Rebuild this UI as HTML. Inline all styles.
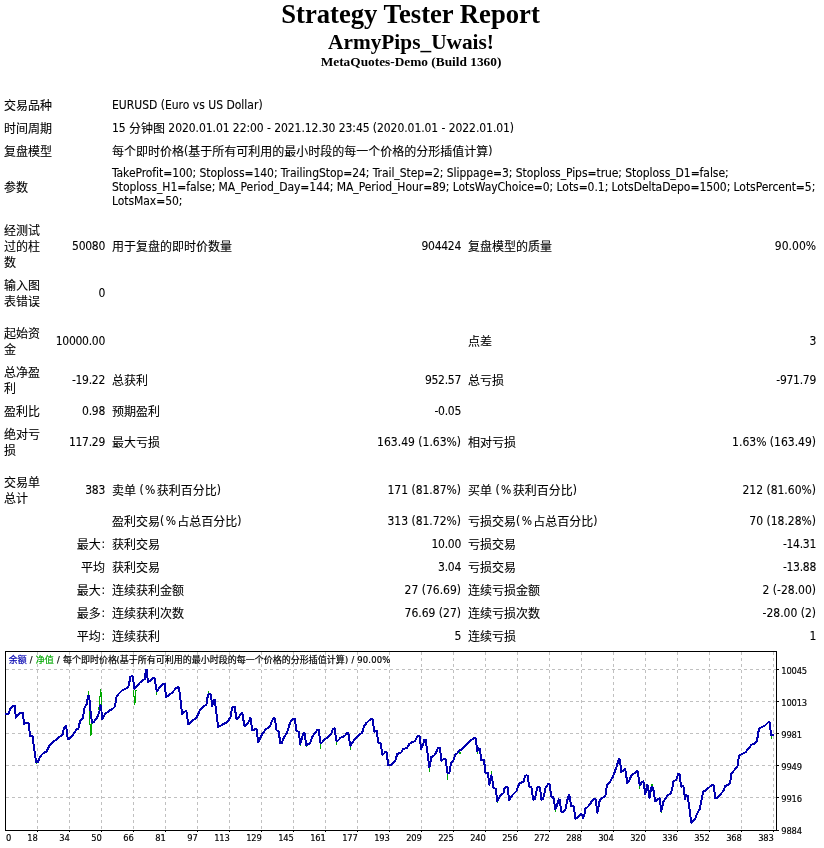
<!DOCTYPE html>
<html>
<head>
<meta charset="utf-8">
<title>Strategy Tester: ArmyPips_Uwais!</title>
<style>
html,body{margin:0;padding:0;background:#fff;}
body{width:824px;height:848px;position:relative;overflow:hidden;color:#000;}
.h{position:absolute;left:0;width:824px;text-align:center;font-family:"Liberation Serif","Noto Serif CJK SC",serif;font-weight:bold;white-space:nowrap;}
#h1{top:-1px;left:-1.5px;font-size:26.67px;line-height:30px;}
#h2{top:30px;left:-1px;font-size:21.33px;line-height:24px;}
#h3{top:54.4px;left:-1px;font-size:13.33px;line-height:15px;}
table{position:absolute;left:0;top:92px;width:820px;border-collapse:separate;border-spacing:1px;table-layout:fixed;}
td{font-family:"DejaVu Sans Condensed","Noto Sans CJK SC",sans-serif;font-size:12px;line-height:16px;padding:5px 3px 1px 3px;vertical-align:middle;text-align:left;word-break:break-all;white-space:nowrap;-webkit-text-stroke:0.1px #000;}
td.w{white-space:normal;}
td.r,td.l{padding:4px 3px 2px 3px;}
td.r{text-align:right;}
td.d{letter-spacing:-0.28px;}
td.c{text-align:right;}
i{font-style:normal;position:relative;top:-1px;}
i.n{letter-spacing:-0.065px;}
td.c i{margin-left:.6px;}
i.k{letter-spacing:1.4px;}
td.p b{font-weight:normal;letter-spacing:-0.052px;}
td.p{line-height:14px;padding:4px 3px 0 3px;height:42px;letter-spacing:-0.06px;}
td.q{padding:7px 3px 1px 3px;}
tr.sp td{height:8px;padding:0;line-height:0;}
#chart{position:absolute;left:2px;top:648px;width:820px;height:200px;}
</style>
</head>
<body>
<div class="h" id="h1">Strategy Tester Report</div>
<div class="h" id="h2">ArmyPips_Uwais!</div>
<div class="h" id="h3">MetaQuotes-Demo (Build 1360)</div>
<table>
<colgroup><col style="width:42px"><col style="width:64px"><col style="width:180px"><col style="width:174px"><col style="width:180px"><col style="width:173px"></colgroup>
<tr><td colspan="2">交易品种</td><td colspan="4" class="l">EURUSD (Euro vs US Dollar)</td></tr>
<tr><td colspan="2">时间周期</td><td colspan="4"><i class="n">15 </i>分钟图<i class="n"> 2020.01.01 22:00 - 2021.12.30 23:45 (2020.01.01 - 2022.01.01)</i></td></tr>
<tr><td colspan="2">复盘模型</td><td colspan="4">每个即时价格<i>(</i>基于所有可利用的最小时段的每一个价格的分形插值计算<i>)</i></td></tr>
<tr><td colspan="2" class="q">参数</td><td colspan="4" class="p">TakeProfit=100; Stoploss=140; TrailingStop=24; Trail_Step=2; Slippage=3; Stoploss_Pips=true; Stoploss_D1=false;<br><b>Stoploss_H1=false; MA_Period_Day=144; MA_Period_Hour=89; LotsWayChoice=0; Lots=0.1; LotsDeltaDepo=1500; LotsPercent=5;</b><br>LotsMax=50;</td></tr>
<tr class="sp"><td colspan="6"></td></tr>
<tr><td class="w">经测试过的柱数</td><td class="r d">50080</td><td>用于复盘的即时价数量</td><td class="r d">904424</td><td>复盘模型的质量</td><td class="r">90.00%</td></tr>
<tr><td class="w">输入图表错误</td><td class="r d">0</td><td></td><td class="r"></td><td></td><td class="r"></td></tr>
<tr class="sp"><td colspan="6"></td></tr>
<tr><td class="w">起始资金</td><td class="r d">10000.00</td><td></td><td class="r"></td><td>点差</td><td class="r d">3</td></tr>
<tr><td class="w">总净盈利</td><td class="r d">-19.22</td><td>总获利</td><td class="r d">952.57</td><td>总亏损</td><td class="r d">-971.79</td></tr>
<tr><td class="w">盈利比</td><td class="r d">0.98</td><td>预期盈利</td><td class="r d">-0.05</td><td></td><td class="r"></td></tr>
<tr><td class="w">绝对亏损</td><td class="r d">117.29</td><td>最大亏损</td><td class="r">163.49 (1.63%)</td><td>相对亏损</td><td class="r">1.63% (163.49)</td></tr>
<tr class="sp"><td colspan="6"></td></tr>
<tr><td class="w">交易单总计</td><td class="r d">383</td><td>卖单 <i class="k">(%</i>获利百分比<i>)</i></td><td class="r">171 (81.87%)</td><td>买单 <i class="k">(%</i>获利百分比<i>)</i></td><td class="r">212 (81.60%)</td></tr>
<tr><td colspan="2"></td><td>盈利交易<i class="k">(%</i>占总百分比<i>)</i></td><td class="r">313 (81.72%)</td><td>亏损交易<i class="k">(%</i>占总百分比<i>)</i></td><td class="r">70 (18.28%)</td></tr>
<tr><td colspan="2" class="c">最大<i>:</i></td><td>获利交易</td><td class="r d">10.00</td><td>亏损交易</td><td class="r d">-14.31</td></tr>
<tr><td colspan="2" class="c">平均</td><td>获利交易</td><td class="r d">3.04</td><td>亏损交易</td><td class="r d">-13.88</td></tr>
<tr><td colspan="2" class="c">最大<i>:</i></td><td>连续获利金额</td><td class="r">27 (76.69)</td><td>连续亏损金额</td><td class="r">2 (-28.00)</td></tr>
<tr><td colspan="2" class="c">最多<i>:</i></td><td>连续获利次数</td><td class="r">76.69 (27)</td><td>连续亏损次数</td><td class="r">-28.00 (2)</td></tr>
<tr><td colspan="2" class="c">平均<i>:</i></td><td>连续获利</td><td class="r d">5</td><td>连续亏损</td><td class="r d">1</td></tr>
</table>
<svg id="chart" width="820" height="200" viewBox="0 0 820 200">
<rect x="0" y="0" width="820" height="200" fill="#fff"/>
<path d="M35.5 4V182M67.5 4V182M99.5 4V182M131.5 4V182M163.5 4V182M195.5 4V182M227.5 4V182M259.5 4V182M291.5 4V182M323.5 4V182M355.5 4V182M387.5 4V182M419.5 4V182M451.5 4V182M483.5 4V182M515.5 4V182M547.5 4V182M579.5 4V182M611.5 4V182M643.5 4V182M675.5 4V182M707.5 4V182M739.5 4V182M771.5 4V182M4 21.5H774M4 53.5H774M4 85.5H774M4 117.5H774M4 149.5H774" fill="none" stroke="#c0c0c0" stroke-width="1" stroke-dasharray="3 3" shape-rendering="crispEdges"/>
<path d="M3.5 3.5H774.5V182.5H3.5ZM35.5 183V184M67.5 183V184M99.5 183V184M131.5 183V184M163.5 183V184M195.5 183V184M227.5 183V184M259.5 183V184M291.5 183V184M323.5 183V184M355.5 183V184M387.5 183V184M419.5 183V184M451.5 183V184M483.5 183V184M515.5 183V184M547.5 183V184M579.5 183V184M611.5 183V184M643.5 183V184M675.5 183V184M707.5 183V184M739.5 183V184M771.5 183V184M775 21.5H777M775 53.5H777M775 85.5H777M775 117.5H777M775 149.5H777M775 182.5H777" fill="none" stroke="#000" stroke-width="1" shape-rendering="crispEdges"/>
<path d="M86.4 42.8V48.0M318.4 95.0V100.6M334.6 93.0V96.5M348.5 98.0V102.0M427.5 119.0V123.8M445.7 125.0V131.6M489.4 123.2V127.5M637.8 137.5V140.8M769.3 87.8V91.0M206.4 43.0V46.0M154.7 43.4V46.6M34.2 114.5V116.2M298.2 96.0V97.8M304.2 97.0V98.8M649.9 136.2V138.7M458.0 103.6V106.0M475.7 103.6V106.2M553.3 161.5V163.5M659.3 163.0V164.5M595.3 164.6V166.0M495.2 153.0V154.5M87.4,61.0 87.4,76.4 88.6,76.4 88.6,87.7 89.6,83.7 89.7,75.7 90.7,75.0M96.3,61.5 97.4,58.0 97.4,48.4 98.5,48.4 98.5,41.1 99.5,49.0 99.5,58.0M131.5,41.5 131.5,48.8 132.5,48.8 132.5,56.8 133.5,51.7 133.5,43.7 134.6,41.8" fill="none" stroke="#00a800" stroke-width="1.3" shape-rendering="crispEdges"/>
<path d="M4.1,66.3 6.5,66.3 8.0,61.1 10.7,57.7 12.8,57.5 13.8,69.6 15.0,68.4 18.0,64.5 20.8,64.5 22.0,75.7 24.1,75.1 26.5,75.1 28.1,87.8 30.5,88.1 32.0,100.0 34.2,114.3 35.9,113.9 38.0,108.7 41.1,105.4 44.7,103.4 47.8,96.9 51.4,93.9 56.9,89.3 60.5,86.9 62.1,79.3 64.1,78.1 65.7,90.9 67.4,90.9 72.0,85.4 74.5,81.2 76.3,81.2 78.1,72.7 81.1,69.6 82.0,61.1 84.8,55.7 86.0,47.8 87.2,48.4 88.4,62.3 90.0,74.5 91.4,74.5 95.1,69.6 96.0,67.7 97.6,62.8 98.5,57.4 99.3,60.4 100.0,70.7 101.3,69.5 102.7,66.5 107.0,62.8 110.0,61.4 112.4,59.2 113.6,54.3 114.2,49.7 116.1,46.4 120.3,42.2 123.9,40.7 126.4,38.3 127.6,33.1 128.4,28.6 130.6,28.2 131.6,34.9 132.4,41.0 134.3,38.8 137.3,35.2 140.9,31.9 143.0,31.0 143.7,22.2 144.9,22.2 145.8,34.3 147.6,33.1 150.6,30.1 152.5,29.8 153.7,37.3 154.7,43.4 156.1,41.6 160.4,36.1 162.8,35.9 164.0,48.9 165.8,48.3 170.7,44.0 174.3,39.8 176.7,39.2 178.0,47.0 179.2,58.0 180.1,65.9 182.2,64.0 184.3,62.8 185.5,71.3 186.2,76.2 188.3,75.0 191.6,71.8 194.7,69.3 196.5,65.7 198.3,61.4 200.7,59.0 204.4,56.6 205.2,51.1 206.2,46.3 208.6,46.3 209.6,52.3 210.1,58.4 211.7,52.3 212.9,52.3 213.7,59.6 214.9,69.3 216.2,78.8 217.7,78.4 220.8,76.4 223.8,74.8 226.8,71.8 228.7,68.7 229.9,60.8 230.7,59.0 232.7,59.0 233.5,64.5 234.4,70.8 235.9,70.5 239.0,65.9 240.4,65.1 241.4,71.8 242.4,77.8 243.8,77.6 246.9,73.6 248.1,70.3 248.9,71.2 250.1,82.1 251.7,82.1 252.9,80.9 254.5,81.5 255.4,88.1 256.2,94.2 257.4,92.4 260.2,85.7 263.8,81.5 268.1,78.4 269.9,73.0 271.7,69.9 273.0,70.5 274.4,82.1 276.6,83.3 278.4,95.4 280.0,94.8 282.1,88.7 284.5,85.7 284.8,85.4 286.4,80.5 288.1,74.5 290.9,70.8 292.7,70.6 293.7,77.5 294.5,83.0 296.6,83.6 297.6,90.3 298.2,96.1 299.4,92.7 301.2,85.4 302.4,84.8 303.4,91.5 304.2,96.9 306.1,96.3 308.2,95.1 309.9,89.6 312.7,85.4 315.2,82.0 316.7,82.0 317.6,89.0 318.4,95.1 320.0,94.5 322.4,91.5 326.1,89.0 329.1,86.0 330.9,81.2 332.5,80.5 333.4,86.6 334.6,93.3 335.8,92.7 338.8,89.6 342.5,88.1 344.9,85.4 346.3,85.2 347.3,91.5 348.5,98.1 350.4,94.5 353.4,90.3 356.4,87.2 360.1,84.8 361.9,78.7 364.3,75.1 368.6,71.1 370.6,71.1 371.6,78.7 372.2,83.6 374.6,82.7 375.5,89.0 376.2,94.5 378.6,94.9 379.5,100.5 380.2,106.6 381.6,106.0 383.5,103.9 384.7,104.2 385.5,111.5 386.5,117.5 388.9,116.9 393.2,112.7 394.4,109.0 395.2,106.0 399.2,104.4 401.1,101.2 405.3,99.6 407.1,96.3 409.3,94.5 412.6,93.3 415.6,88.4 417.4,87.8 418.3,94.5 419.0,100.8 420.5,98.1 422.3,92.0 423.9,92.0 424.7,99.3 425.9,107.8 426.8,115.1 427.5,119.4 428.4,115.1 429.0,109.3 432.0,107.6 433.8,105.4 435.6,100.5 437.7,99.9 438.7,106.6 439.3,112.7 441.1,111.5 443.5,111.2 444.5,117.5 445.4,124.8 447.4,124.8 448.4,118.7 449.0,115.1 451.4,112.1 453.0,107.2 455.7,104.8 456.9,102.7 459.9,101.5 464.2,96.9 469.0,92.0 472.1,90.2 473.6,90.2 474.5,96.6 475.4,103.2 476.6,100.2 477.9,100.8 478.8,108.7 479.3,112.3 482.1,112.3 482.7,118.4 483.3,124.5 485.7,124.5 486.6,130.5 487.3,136.6 488.5,133.0 489.4,127.5 490.2,130.5 491.2,139.0 492.2,140.0 493.9,140.9 494.6,147.5 495.2,153.0 496.7,150.0 499.1,146.9 501.5,145.1 502.7,139.6 503.9,138.8 505.5,139.0 506.4,146.3 507.2,151.8 508.4,150.0 510.6,146.9 514.3,143.3 516.1,138.4 517.3,135.4 521.5,133.6 523.0,128.1 524.6,127.1 525.8,127.9 526.6,134.2 527.4,139.0 529.4,139.0 530.3,145.7 531.3,151.8 532.7,151.2 533.9,146.3 535.1,140.0 536.7,138.8 537.9,140.0 538.8,146.3 539.5,151.8 541.0,151.2 542.2,146.3 543.4,140.3 545.8,136.4 547.6,136.0 548.5,142.7 549.2,148.7 551.3,149.4 552.5,156.0 553.3,161.5 554.9,157.8 556.7,151.2 557.7,151.8 558.6,158.5 559.4,163.9 561.3,163.6 563.4,161.5 564.6,156.0 565.8,150.0 567.4,146.9 568.6,154.8 569.2,158.1 571.6,158.5 572.6,164.8 573.5,170.9 575.0,169.7 577.1,167.5 579.2,165.8 580.1,166.6 581.1,169.9 582.3,167.2 583.2,160.6 585.6,159.0 588.0,156.3 589.6,153.3 591.7,151.2 593.5,151.2 594.5,158.1 595.3,164.6 596.2,161.2 597.1,154.5 598.9,150.9 602.0,149.0 603.8,146.6 604.4,140.5 605.0,137.5 608.7,132.7 611.1,128.4 613.5,121.7 615.9,114.5 616.8,110.8 618.0,111.4 618.7,118.7 619.2,123.8 621.4,122.9 623.2,121.1 624.1,126.6 625.3,135.1 626.9,133.3 629.3,127.8 632.9,124.8 635.0,122.9 636.0,124.2 636.9,132.0 637.8,137.5 639.6,134.5 641.4,133.3 642.3,139.3 643.2,146.0 644.2,141.8 645.1,136.9 645.9,138.1 646.9,145.4 647.5,150.3 648.3,145.4 649.6,138.7 651.1,139.9 652.0,145.4 653.2,153.3 655.4,151.5 657.6,150.0 658.4,156.3 659.3,163.0 660.2,160.0 661.4,153.3 663.9,150.3 664.8,148.4 669.1,144.8 670.5,139.3 671.3,133.9 674.5,131.4 676.1,126.2 677.6,126.2 678.2,132.0 679.4,138.7 681.4,138.1 682.2,144.2 683.0,150.9 684.2,147.2 685.8,147.8 686.7,155.1 687.9,163.6 688.7,170.9 689.5,174.5 690.9,173.6 693.1,170.9 695.2,165.4 697.6,161.2 698.8,155.7 700.0,149.0 701.2,143.6 703.0,143.0 706.1,140.3 709.7,137.1 711.5,137.1 712.5,144.2 713.4,150.3 714.9,150.0 718.2,146.6 721.3,143.0 723.1,138.1 726.7,136.7 728.3,133.9 729.1,126.0 732.2,122.3 735.8,117.5 736.4,112.0 737.3,107.2 740.2,106.0 743.6,104.2 746.9,100.0 749.3,96.9 753.6,95.1 755.0,92.7 756.0,86.6 757.0,80.5 759.6,79.1 762.7,77.9 765.9,74.5 767.5,74.2 768.4,80.5 769.1,87.2 771.2,87.2" fill="none" stroke="#0000b0" stroke-width="2" stroke-linejoin="round" stroke-linecap="square" shape-rendering="crispEdges"/>
<g font-family="'DejaVu Sans Condensed','Noto Sans CJK SC',sans-serif" font-size="9.3" fill="#000" stroke="#000" stroke-width="0.15" letter-spacing="-0.2"><text x="4" y="193.4">0</text><text x="35.6" y="193.4" text-anchor="end">18</text><text x="67.6" y="193.4" text-anchor="end">34</text><text x="99.6" y="193.4" text-anchor="end">50</text><text x="131.6" y="193.4" text-anchor="end">66</text><text x="163.6" y="193.4" text-anchor="end">81</text><text x="195.6" y="193.4" text-anchor="end">97</text><text x="227.6" y="193.4" text-anchor="end">113</text><text x="259.6" y="193.4" text-anchor="end">129</text><text x="291.6" y="193.4" text-anchor="end">145</text><text x="323.6" y="193.4" text-anchor="end">161</text><text x="355.6" y="193.4" text-anchor="end">177</text><text x="387.6" y="193.4" text-anchor="end">193</text><text x="419.6" y="193.4" text-anchor="end">209</text><text x="451.6" y="193.4" text-anchor="end">225</text><text x="483.6" y="193.4" text-anchor="end">240</text><text x="515.6" y="193.4" text-anchor="end">256</text><text x="547.6" y="193.4" text-anchor="end">272</text><text x="579.6" y="193.4" text-anchor="end">288</text><text x="611.6" y="193.4" text-anchor="end">304</text><text x="643.6" y="193.4" text-anchor="end">320</text><text x="675.6" y="193.4" text-anchor="end">336</text><text x="707.6" y="193.4" text-anchor="end">352</text><text x="739.6" y="193.4" text-anchor="end">368</text><text x="771.6" y="193.4" text-anchor="end">383</text><text x="779.3" y="26.2">10045</text><text x="779.3" y="58.2">10013</text><text x="779.3" y="90.2">9981</text><text x="779.3" y="122.2">9949</text><text x="779.3" y="154.2">9916</text><text x="779.3" y="185.7">9884</text></g>
<g font-family="'DejaVu Sans Condensed','Noto Sans CJK SC',sans-serif" font-size="9" fill="#000" stroke="#000" stroke-width="0.2"><text x="6.8" y="15" fill="#0000b0" stroke="#0000b0">余额</text><text x="27.8" y="15">/</text><text x="33.8" y="15" fill="#00a800" stroke="#00a800">净值</text><text x="54.9" y="15">/</text><text x="61" y="15">每个即时价格</text><text x="114.6" y="15">(</text><text x="117.8" y="15">基于所有可利用的最小时段的每一个价格的分形插值计算</text><text x="343" y="15">)</text><text x="349.6" y="15">/</text><text x="355.2" y="15" font-size="9.4" letter-spacing="0.2">90.00%</text></g>
</svg>
</body>
</html>
